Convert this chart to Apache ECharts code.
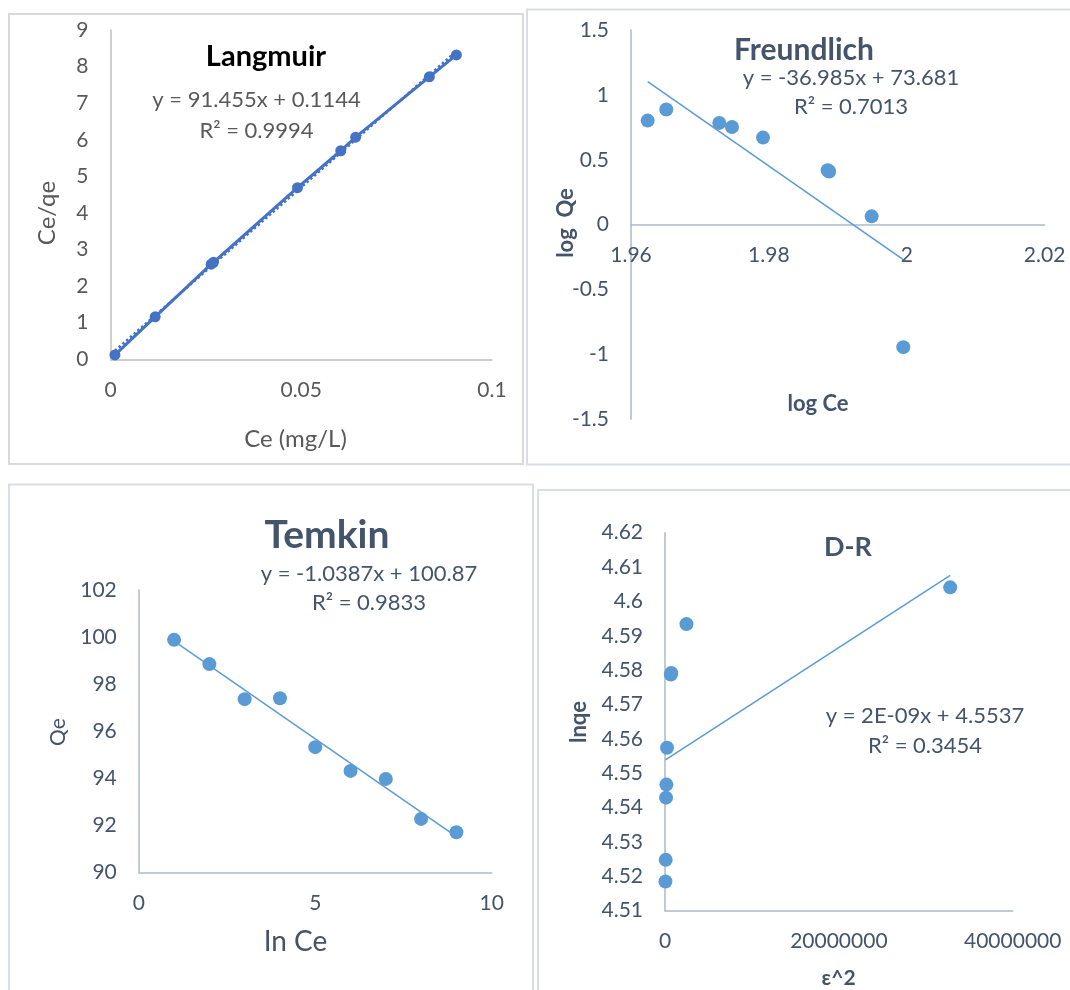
<!DOCTYPE html>
<html>
<head>
<meta charset="utf-8">
<script src="https://cdn.jsdelivr.net/npm/echarts@6/dist/echarts.min.js"></script>
<style>
html,body{margin:0;padding:0;background:#fff;}
#c{width:1070px;height:990px;}
</style>
</head>
<body>
<div id="c"></div>
<script>
// ---- Data ----
const langmuirCe   = [0.00116, 0.01171, 0.0264, 0.0270, 0.04903, 0.06037, 0.06428, 0.0836, 0.09069];
const langmuirCeQe = [0.12, 1.16, 2.60, 2.65, 4.69, 5.70, 6.07, 7.72, 8.32];

const freundLogCe = [1.96242, 1.96512, 1.97281, 1.97465, 1.97915, 1.98853, 1.98875, 1.99491, 1.99950];
const freundLogQe = [0.802, 0.887, 0.784, 0.753, 0.671, 0.419, 0.410, 0.064, -0.944];

const temkinLnCe = [1, 2, 3, 4, 5, 6, 7, 8, 9];
const temkinQe   = [99.88, 98.85, 97.36, 97.40, 95.32, 94.31, 93.97, 92.27, 91.70];

const drEps2 = [50000, 80000, 120000, 160000, 230000, 670000, 720000, 2470000, 32810000];
const drLnqe = [4.5185, 4.5248, 4.5429, 4.5467, 4.5574, 4.5787, 4.5792, 4.5934, 4.6041];

// Tick settings
const langmuirXTicks = {min: 0, max: 0.1, interval: 0.05};
const langmuirYTicks = {min: 0, max: 9, interval: 1};
const freundXTicks = {min: 1.96, max: 2.02, interval: 0.02};
const freundYTicks = {min: -1.5, max: 1.5, interval: 0.5};
const temkinXTicks = {min: 0, max: 10, interval: 5};
const temkinYTicks = {min: 90, max: 102, interval: 2};
const drXTicks = {min: 0, max: 40000000, interval: 20000000};
const drYTicks = {min: 4.51, max: 4.62, interval: 0.01};

// Texts
const langmuirEq = ['y = 91.455x + 0.1144', 'R² = 0.9994'];
const freundEq = ['y = -36.985x + 73.681', 'R² = 0.7013'];
const temkinEq = ['y = -1.0387x + 100.87', 'R² = 0.9833'];
const drEq = ['y = 2E-09x + 4.5537', 'R² = 0.3454'];

// ---- helpers ----
function pairs(xs, ys){ return xs.map((x,i)=>[x, ys[i]]); }
function trend(xs, ys){
  const n = xs.length;
  let mx=0,my=0; for(let i=0;i<n;i++){mx+=xs[i];my+=ys[i];} mx/=n; my/=n;
  let sxy=0,sxx=0; for(let i=0;i<n;i++){sxy+=(xs[i]-mx)*(ys[i]-my); sxx+=(xs[i]-mx)*(xs[i]-mx);}
  const m=sxy/sxx, b=my-m*mx;
  const x0=Math.min(...xs), x1=Math.max(...xs);
  return [[x0, m*x0+b],[x1, m*x1+b]];
}
const FONT = 'Lato, "Noto Sans", sans-serif';
const fmt = v => String(+v.toFixed(2));

const grids = [
  {left:110.5, top:30, width:381.4, height:329.3, outerBoundsMode:'none'},
  {left:631, top:30, width:413.6, height:389.3, outerBoundsMode:'none'},
  {left:138.8, top:590, width:352.9, height:282.3, outerBoundsMode:'none'},
  {left:665, top:532.7, width:347.7, height:378, outerBoundsMode:'none'}
];

function xAx(gi, t, lineColor, labelColor, offset){
  return Object.assign({
    type:'value', gridIndex: gi, position:'bottom', offset: offset || 0,
    splitLine:{show:false}, axisTick:{show:false},
    axisLine:{show:true, onZero:false, lineStyle:{color:lineColor, width:1.5}},
    axisLabel:{color:labelColor, fontSize:21, fontFamily:FONT, margin:20, formatter: fmt}
  }, t);
}
function yAx(gi, t, lineColor, labelColor){
  return Object.assign({
    type:'value', gridIndex: gi,
    splitLine:{show:false}, axisTick:{show:false},
    axisLine:{show:true, onZero:false, lineStyle:{color:lineColor, width:1.5}},
    axisLabel:{color:labelColor, fontSize:21, fontFamily:FONT, margin:22, formatter: fmt}
  }, t);
}
function txt(text, x, y, size, color, bold, rot){
  return {type:'text', x:x, y:y, rotation: rot ? Math.PI/2 : 0, z: 10,
    style:{text:text, fill:color, fontSize:size, fontFamily:FONT, fontWeight: bold?'bold':'normal',
      align:'center', verticalAlign:'middle', textAlign:'center', textVerticalAlign:'middle'}};
}
function box(x,y,w,h,color){
  return {type:'rect', shape:{x:x,y:y,width:w,height:h}, z:0,
    style:{fill:'none', stroke:color, lineWidth:2}};
}

// Freundlich x axis crosses at log Qe = 0: move the axis up to that value
const freundZeroOffset = -grids[1].height * (0 - freundYTicks.min) / (freundYTicks.max - freundYTicks.min);

const G1 = '#595959', L1 = '#BFBFBF', C1 = '#4472C4';
const G2 = '#44546A', L2 = '#ADB9CA', C2 = '#5B9BD5';

const chart = echarts.init(document.getElementById('c'), null, {renderer:'canvas', width:1070, height:990});
chart.setOption({
  animation:false,
  backgroundColor:'#ffffff',
  grid: grids,
  xAxis:[
    xAx(0, langmuirXTicks, L1, G1),
    xAx(1, freundXTicks, L2, G2, freundZeroOffset),
    xAx(2, temkinXTicks, L2, G2),
    xAx(3, drXTicks, L2, G2)
  ],
  yAxis:[
    yAx(0, langmuirYTicks, L1, G1),
    yAx(1, freundYTicks, L2, G2),
    yAx(2, temkinYTicks, L2, G2),
    yAx(3, drYTicks, L2, G2)
  ],
  series:[
    {type:'line', xAxisIndex:0, yAxisIndex:0, data: trend(langmuirCe, langmuirCeQe), symbol:'none', z:1,
     lineStyle:{color:C1, width:2.5, type:'dotted'}},
    {type:'line', xAxisIndex:0, yAxisIndex:0, data: pairs(langmuirCe, langmuirCeQe), symbol:'circle', symbolSize:11, z:2,
     lineStyle:{color:C1, width:3}, itemStyle:{color:C1}},
    {type:'line', xAxisIndex:1, yAxisIndex:1, data: trend(freundLogCe, freundLogQe), symbol:'none', z:1,
     lineStyle:{color:C2, width:1.5}},
    {type:'scatter', xAxisIndex:1, yAxisIndex:1, data: pairs(freundLogCe, freundLogQe), symbol:'circle', symbolSize:14, z:2,
     itemStyle:{color:C2, opacity:1}},
    {type:'line', xAxisIndex:2, yAxisIndex:2, data: trend(temkinLnCe, temkinQe), symbol:'none', z:1,
     lineStyle:{color:C2, width:1.5}},
    {type:'scatter', xAxisIndex:2, yAxisIndex:2, data: pairs(temkinLnCe, temkinQe), symbol:'circle', symbolSize:14, z:2,
     itemStyle:{color:C2, opacity:1}},
    {type:'line', xAxisIndex:3, yAxisIndex:3, data: trend(drEps2, drLnqe), symbol:'none', z:1,
     lineStyle:{color:C2, width:1.5}},
    {type:'scatter', xAxisIndex:3, yAxisIndex:3, data: pairs(drEps2, drLnqe), symbol:'circle', symbolSize:14, z:2,
     itemStyle:{color:C2, opacity:1}}
  ],
  graphic:[
    box(9, 14, 514, 450, '#D9D9D9'),
    box(527, 9.5, 600, 455, '#D9DEE6'),
    box(9, 484.5, 524, 600, '#D9DEE6'),
    box(538, 490, 600, 600, '#D9DEE6'),
    // Langmuir
    txt('Langmuir', 266, 57, 29, '#000000', true),
    txt(langmuirEq[0], 256.5, 100, 22, G1),
    txt(langmuirEq[1], 256.5, 131, 22, G1),
    txt('Ce/qe', 47.3, 213, 24, G1, false, true),
    txt('Ce (mg/L)', 295.5, 439, 24, G1),
    // Freundlich
    txt('Freundlich', 804, 50, 30, G2, true),
    txt(freundEq[0], 851, 78, 22, G2),
    txt(freundEq[1], 851, 107, 22, G2),
    txt('log  Qe', 566, 223, 22, G2, true, true),
    txt('log Ce', 818, 404, 22, G2, true),
    // Temkin
    txt('Temkin', 327, 535, 39, G2, true),
    txt(temkinEq[0], 369, 574, 22, G2),
    txt(temkinEq[1], 369, 603, 22, G2),
    txt('Qe', 58.5, 732, 21, G2, false, true),
    txt('In Ce', 295.5, 941.7, 28, G2),
    // D-R
    txt('D-R', 848, 547, 27, G2, true),
    txt(drEq[0], 925, 716, 22, G2),
    txt(drEq[1], 925, 746, 22, G2),
    txt('lnqe', 578.7, 722, 22, G2, true, true),
    txt('ε^2', 838.6, 978, 21, G2, true)
  ]
});
</script>
</body>
</html>
